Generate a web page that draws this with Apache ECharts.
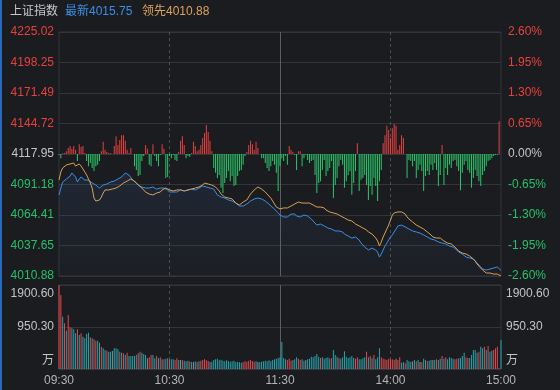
<!DOCTYPE html>
<html><head><meta charset="utf-8">
<script src="https://cdn.jsdelivr.net/npm/echarts@6/dist/echarts.min.js"></script>
<style>html,body{margin:0;padding:0;background:#1b1c20;}#c{width:560px;height:390px;}</style>
</head><body><div id="c"></div>
<script>
const indexName = '上证指数';
const latestLabel = '最新';
const leadLabel = '领先';
const priceTicks = ['4010.88','4037.65','4064.41','4091.18','4117.95','4144.72','4171.49','4198.25','4225.02'];
const pctTicks = ['-2.60%','-1.95%','-1.30%','-0.65%','0.00%','0.65%','1.30%','1.95%','2.60%'];
const volTicks = ['万','950.30','1900.60'];
const timeTicks = ['09:30','10:30','11:30','14:00','15:00'];

const latest = [
4082.0,4088.1,4093.4,4095.1,4096.0,4096.9,4098.6,4101.3,4102.2,4097.8,
4093.4,4096.0,4097.8,4096.9,4095.1,4094.2,4095.1,4093.4,4092.5,4091.6,
4090.7,4089.9,4088.1,4089.0,4090.7,4090.7,4091.6,4092.5,4093.4,4094.2,
4094.2,4095.1,4096.0,4096.9,4097.8,4099.5,4101.3,4100.4,4099.5,4097.8,
4095.1,4093.4,4092.5,4090.7,4089.9,4089.0,4088.1,4088.1,4087.2,4088.1,
4089.0,4089.0,4088.1,4087.2,4087.2,4088.1,4089.0,4088.1,4088.1,4086.4,
4084.6,4083.7,4084.6,4085.5,4084.6,4085.5,4086.4,4085.5,4085.5,4086.4,
4086.4,4086.4,4087.2,4087.2,4086.4,4087.2,4088.1,4089.0,4089.9,4089.9,
4089.0,4089.0,4088.1,4088.1,4087.2,4084.6,4082.0,4081.1,4080.2,4079.3,
4079.3,4078.5,4077.6,4077.6,4076.7,4075.8,4074.9,4074.1,4072.3,4071.4,
4072.3,4073.2,4074.1,4075.8,4076.7,4077.6,4078.5,4079.3,4079.3,4079.3,
4078.5,4077.6,4076.7,4075.8,4074.1,4072.3,4071.4,4069.7,4068.0,4066.2,
4064.4,4063.5,4062.7,4062.7,4062.7,4064.4,4065.3,4066.2,4065.3,4063.5,
4062.7,4062.7,4063.5,4064.4,4063.5,4063.5,4062.7,4060.9,4060.0,4057.4,
4055.6,4055.6,4056.5,4055.6,4054.8,4053.9,4053.0,4053.0,4052.1,4051.3,
4050.4,4049.5,4050.4,4051.3,4049.5,4047.7,4046.9,4046.0,4045.1,4044.2,
4044.2,4045.1,4045.1,4042.5,4039.8,4038.1,4036.3,4034.6,4033.7,4034.6,
4035.4,4035.4,4033.7,4031.9,4027.5,4030.2,4033.7,4037.2,4039.8,4042.5,
4045.1,4046.9,4049.5,4052.1,4054.8,4055.6,4055.6,4054.8,4053.9,4053.0,
4052.1,4051.3,4050.4,4049.5,4049.5,4048.6,4048.6,4047.7,4046.9,4046.0,
4045.1,4044.2,4043.3,4042.5,4042.5,4041.6,4040.7,4040.7,4039.8,4039.0,
4039.0,4038.1,4037.2,4037.2,4036.3,4035.4,4033.7,4031.9,4031.0,4030.2,
4029.3,4027.5,4026.7,4026.7,4025.8,4025.8,4024.9,4022.3,4020.5,4018.8,
4017.0,4016.1,4016.1,4017.0,4017.0,4017.9,4017.9,4018.8,4018.8,4017.9,4015.75];

const leading = [
4095.1,4102.2,4105.7,4107.4,4108.3,4108.3,4109.2,4110.0,4110.0,4107.4,
4105.7,4109.2,4107.4,4105.7,4102.2,4099.5,4097.8,4092.5,4088.1,4079.3,
4076.7,4075.8,4077.6,4080.2,4083.7,4086.4,4086.4,4086.4,4086.4,4087.2,
4088.1,4088.1,4089.0,4089.9,4091.6,4092.5,4093.4,4094.2,4095.1,4096.0,
4096.0,4094.2,4092.5,4090.7,4089.0,4088.1,4086.4,4084.6,4083.7,4082.8,
4082.0,4082.0,4082.8,4083.7,4084.6,4084.6,4086.4,4087.2,4088.1,4087.2,
4086.4,4085.5,4085.5,4086.4,4086.4,4086.4,4086.4,4085.5,4085.5,4085.5,
4086.4,4086.4,4087.2,4087.2,4088.1,4088.1,4089.0,4089.0,4090.7,4092.5,
4092.5,4091.6,4091.6,4090.7,4089.9,4089.0,4088.1,4085.5,4082.8,4081.1,
4080.2,4079.3,4079.3,4078.5,4078.5,4076.7,4074.9,4074.1,4073.2,4074.1,
4075.8,4076.7,4077.6,4080.2,4082.8,4084.6,4086.4,4088.1,4089.0,4088.1,
4087.2,4086.4,4084.6,4082.8,4081.1,4079.3,4076.7,4074.1,4071.4,4070.6,
4069.7,4069.7,4070.6,4070.6,4070.6,4071.4,4072.3,4073.2,4074.1,4074.9,
4075.8,4075.8,4074.9,4074.9,4074.9,4074.9,4074.9,4074.1,4073.2,4072.3,
4071.4,4071.4,4071.4,4071.4,4070.6,4068.8,4068.0,4067.1,4066.2,4066.2,
4065.3,4065.3,4064.4,4063.5,4061.8,4061.8,4060.9,4060.0,4060.0,4059.2,
4058.3,4056.5,4055.6,4054.8,4053.9,4053.0,4052.1,4051.3,4049.5,4048.6,
4047.7,4046.0,4044.2,4041.6,4037.2,4040.7,4045.1,4048.6,4052.1,4055.6,
4060.0,4064.4,4066.2,4067.1,4067.1,4068.0,4067.1,4067.1,4065.3,4062.7,
4060.9,4059.2,4058.3,4057.4,4055.6,4054.8,4053.9,4053.0,4052.1,4050.4,
4049.5,4048.6,4046.9,4045.1,4045.1,4044.2,4044.2,4044.2,4043.3,4041.6,
4040.7,4039.8,4039.0,4039.0,4038.1,4036.3,4034.6,4032.8,4031.9,4031.0,
4031.0,4030.2,4029.3,4028.4,4026.7,4025.8,4024.0,4021.4,4019.6,4017.9,
4016.1,4014.4,4013.5,4013.5,4013.5,4013.5,4012.6,4012.6,4012.6,4012.6,4010.88];

// red/green strength bars, in basis points of the index
const strength = [
-2,-9,2,2,6,13,17,11,17,9,
-15,21,15,17,2,-15,-26,-19,-30,-36,
-26,-23,-15,6,26,9,4,2,2,0,
17,38,19,30,40,40,28,9,2,13,
0,-26,-34,-47,-45,-15,-4,19,11,-23,
-26,21,-4,-15,-26,-2,21,11,-51,-49,
-4,-9,-2,-13,-15,4,28,38,19,-9,
-4,-6,2,26,17,6,9,19,34,45,
62,47,28,6,-30,-40,-51,-45,-72,-83,
-62,-51,-36,-58,-47,-68,-66,-47,-36,-34,
-23,-4,4,19,28,21,9,26,13,0,
-9,-9,-19,-30,-36,-26,-15,-23,-40,-79,
-26,-9,-15,-4,-23,17,9,4,-2,-34,
6,6,-26,-9,-2,-13,-19,-15,-13,-45,
-83,-62,-58,-34,-13,-47,-36,-30,-15,-94,
-66,-51,-26,-13,-23,-72,-58,-45,-36,-87,
-62,-36,23,-79,-55,-51,-45,-66,-98,-68,
-87,-51,-68,-100,-58,-34,23,40,60,51,
34,55,64,60,9,19,40,34,0,-51,
-13,-15,-26,-15,-51,-34,-23,-36,-79,-47,
-36,-45,-23,-34,-19,-34,-68,-45,19,-66,
-30,-45,-23,-30,-15,-13,-26,-36,-77,-40,
-23,-15,-34,-40,-72,-51,-34,-47,-58,-68,
-45,-36,-26,-15,-13,-9,-4,-2,-2,70,0];

// volume (万)
const volume = [
1900,1675,1184,1034,867,1222,943,920,897,807,
897,769,807,732,694,792,822,716,694,671,
641,641,596,505,468,430,415,392,392,407,
468,468,445,392,370,355,317,370,294,294,
294,294,317,355,392,370,339,317,242,264,
317,317,242,294,242,264,219,219,234,242,
219,219,219,204,242,204,204,204,189,174,
189,174,158,158,174,158,
174,189,204,219,196,181,158,166,204,219,
234,196,211,189,174,196,181,166,174,189,
158,166,151,143,158,174,166,189,204,181,
166,174,158,151,166,174,189,174,196,181,
204,219,234,249,264,
611,249,219,204,234,189,204,219,264,234,
204,219,189,204,219,234,279,264,294,339,
279,249,264,234,249,264,234,249,430,317,
279,249,234,264,400,279,249,264,294,249,
234,264,
219,219,242,264,392,264,294,242,317,219,
264,468,264,234,219,204,234,219,219,204,
234,204,264,143,158,128,204,174,158,174,
204,174,204,158,158,234,204,181,189,204,
204,204,219,204,234,294,234,264,219,264,
249,234,219,234,242,
249,294,370,264,249,249,317,430,430,370,
392,505,468,505,430,520,392,415,430,468,
505,15,656];
// r = up, t = down, g = flat
const volDir = (
'rrtrtrrttt'+'rtrttttrtr'+'rttrttrttg'+'tttrtrtrtt'+'ttrtrtttgr'+'rttrtrtrtt'+'rttrrtgrtt'+'trtgtr'+
'trrrrrtttt'+'tttttttttt'+'ttttrrrrrr'+'rtgttttttt'+'ttttt'+
'tttrrrtttr'+'rttgtttttt'+'trtttttrtt'+'trtttttttt'+'rr'+
'ttttrtrtrt'+'ttrrrrrrrr'+'grrttrtttg'+'trtgrttrtt'+'gtrttrtrtt'+'ttrrt'+
'tttrrttttt'+'rttrtrttrr'+'rrt').split('');

const minutes = [];
const fmt = m => String(Math.floor(m/60)).padStart(2,'0') + ':' + String(m%60).padStart(2,'0');
for (let m = 9*60+30; m <= 11*60+30; m++) minutes.push(fmt(m));
for (let m = 13*60+1; m <= 15*60; m++) minutes.push(fmt(m));

const RED='#e8413c', GREEN='#27c066', GRAY='#c4c4c4';
const FONT = '"Liberation Sans","Noto Sans CJK SC",sans-serif';
const GRIDC = '#34353a';
const signColor = v => { const n = Number(v); return n > 0 ? RED : (n < 0 ? GREEN : GRAY); };
const volColors = { r:'#e5484d', t:'#27a3ab', g:'#8e8e8e' };

const chart = echarts.init(document.getElementById('c'), null, {renderer:'canvas'});
const catAxis = (grid, pos, splitFn, lineStyle, labelShow) => ({
  gridIndex: grid, type:'category', position: pos, data: minutes, boundaryGap:false,
  axisLine:{show:false}, axisTick:{show:false},
  axisLabel: labelShow ? {show:true, interval:(i,v)=>timeTicks.includes(v), color:'#b4b4b4', fontSize:12, fontFamily:FONT, margin:6} : {show:false},
  splitLine:{show:true, interval:splitFn, lineStyle}
});
const dashed = {color:'#4d4e54', type:[3,3], width:1};
const solid = {color:'#5d5e63', width:1};
const isDash = i => i===60 || i===180;
const isSolid = i => i===120;

const volLabel = v => {
  const k = Math.round(Number(v)/950.3);
  if (k === 2) return '{t|' + volTicks[2] + '}';
  if (k === 0) return '{b|' + volTicks[0] + '}';
  return '{m|' + volTicks[1] + '}';
};
const volRich = {
  t:{color:'#c4c4c4', fontSize:12, fontFamily:FONT, padding:[18,0,0,0]},
  m:{color:'#c4c4c4', fontSize:12, fontFamily:FONT},
  b:{color:'#c4c4c4', fontSize:12, fontFamily:FONT, padding:[0,0,16,0]}
};

chart.setOption({
  backgroundColor:'#1b1c20',
  animation:false,
  grid:[
    {left:59, top:32, width:442, height:244, show:true, borderColor:GRIDC, borderWidth:1, outerBoundsMode:'none'},
    {left:59, top:285, width:442, height:84, show:true, borderColor:GRIDC, borderWidth:1, outerBoundsMode:'none'}
  ],
  xAxis:[
    catAxis(0,'bottom',isDash,dashed,false),
    catAxis(0,'top',isSolid,solid,false),
    catAxis(1,'bottom',isDash,dashed,true),
    catAxis(1,'top',isSolid,solid,false)
  ],
  yAxis:[
    {gridIndex:0, type:'value', min:-260, max:260, interval:65, position:'left',
     axisLine:{show:false}, axisTick:{show:false}, splitLine:{show:true, lineStyle:{color:GRIDC}},
     axisLabel:{formatter:v=>priceTicks[Math.round((v+260)/65)], color:signColor, fontSize:12, fontFamily:FONT, margin:5}},
    {gridIndex:0, type:'value', min:-260, max:260, interval:65, position:'right',
     axisLine:{show:false}, axisTick:{show:false}, splitLine:{show:false},
     axisLabel:{formatter:v=>pctTicks[Math.round((v+260)/65)], color:signColor, fontSize:12, fontFamily:FONT, margin:7}},
    {gridIndex:0, type:'value', min:Number(priceTicks[0]), max:Number(priceTicks[priceTicks.length-1]), show:false, splitLine:{show:false}},
    {gridIndex:1, type:'value', min:0, max:Number(volTicks[2]), interval:Number(volTicks[1]), position:'left',
     axisLine:{show:false}, axisTick:{show:false}, splitLine:{show:true, lineStyle:{color:GRIDC}},
     axisLabel:{formatter:volLabel, rich:volRich, color:'#c4c4c4', fontSize:12, fontFamily:FONT, margin:5}},
    {gridIndex:1, type:'value', min:0, max:Number(volTicks[2]), interval:Number(volTicks[1]), position:'right',
     axisLine:{show:false}, axisTick:{show:false}, splitLine:{show:false},
     axisLabel:{formatter:volLabel, rich:volRich, color:'#c4c4c4', fontSize:12, fontFamily:FONT, margin:5}}
  ],
  series:[
    {type:'bar', xAxisIndex:0, yAxisIndex:0, data:strength, barWidth:1, silent:true,
     itemStyle:{color:p=>p.value>=0?'#e4403f':'#2cc66a'}},
    {type:'line', xAxisIndex:0, yAxisIndex:2, data:latest, symbol:'none', silent:true,
     lineStyle:{color:'#3a8fe6', width:1},
     areaStyle:{color:new echarts.graphic.LinearGradient(0,0,0,1,[
       {offset:0,color:'rgba(55,105,165,0.22)'},{offset:1,color:'rgba(55,105,165,0.04)'}])}},
    {type:'line', xAxisIndex:0, yAxisIndex:2, data:leading, symbol:'none', silent:true,
     lineStyle:{color:'#d9a158', width:1}},
    {type:'bar', xAxisIndex:2, yAxisIndex:3, barWidth:1, silent:true,
     data:volume.map((v,i)=>({value:v, itemStyle:{color:volColors[volDir[i]]}}))}
  ],
  graphic:[
    {type:'rect', left:0, top:0, shape:{width:2, height:390}, style:{fill:'#2a68b8'}},
    {type:'text', x:10, y:12, style:{text:indexName, fill:'#c8c8c8', font:'12px '+FONT, verticalAlign:'middle'}},
    {type:'text', x:65, y:12, style:{text:latestLabel + latest[latest.length-1].toFixed(2), fill:'#3b8fe6', font:'12px '+FONT, verticalAlign:'middle'}},
    {type:'text', x:142, y:12, style:{text:leadLabel + leading[leading.length-1].toFixed(2), fill:'#dba35b', font:'12px '+FONT, verticalAlign:'middle'}}
  ]
});
</script></body></html>
